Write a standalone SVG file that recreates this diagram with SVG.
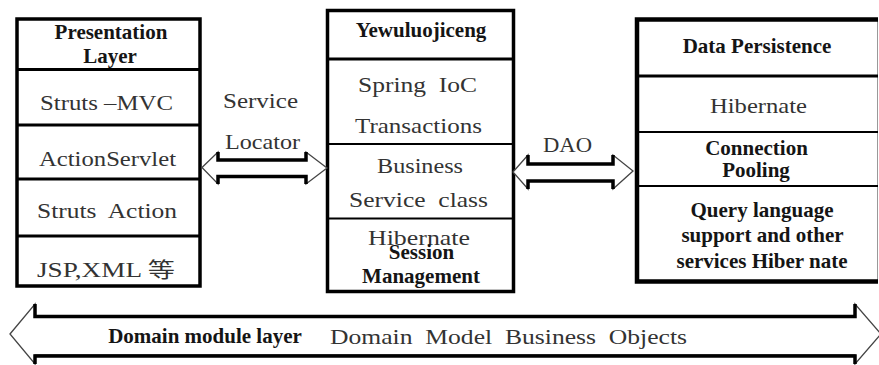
<svg xmlns="http://www.w3.org/2000/svg" width="879" height="365" viewBox="0 0 879 365">
<style>
.b{font-family:"Liberation Serif","Times New Roman",serif;font-weight:bold;font-size:21px;fill:#151515;text-anchor:middle}
.r{font-family:"Liberation Serif","DejaVu Serif",serif;font-weight:normal;font-style:normal;font-size:21px;fill:#333}
.cjk{font-family:"Noto Sans CJK SC",sans-serif}
.box{fill:#fff;stroke:#000;stroke-width:3.5}
.div{stroke:#000;stroke-width:3}
.thin{stroke:#000;stroke-width:2}
.head{fill:#fff;stroke:#444;stroke-width:1.3;stroke-linejoin:miter}
.edge{fill:none;stroke:#000;stroke-width:3.5;stroke-linejoin:miter}
</style>
<rect width="879" height="365" fill="#fff"/>

<g id="presentation">
<rect class="box" x="17" y="19" width="183" height="267"/>
<line class="div" x1="17" y1="69.5" x2="200" y2="69.5"/>
<line class="div" x1="17" y1="125" x2="200" y2="125"/>
<line class="div" x1="17" y1="179" x2="200" y2="179"/>
<line class="div" x1="17" y1="236" x2="200" y2="236"/>
<text class="b" x="111" y="39">Presentation</text>
<text class="b" x="110" y="63">Layer</text>
<text class="r" x="40" y="110" textLength="133" lengthAdjust="spacingAndGlyphs">Struts –MVC</text>
<text class="r" x="39" y="166" textLength="137" lengthAdjust="spacingAndGlyphs">ActionServlet</text>
<text class="r" x="37" y="218" textLength="140" lengthAdjust="spacingAndGlyphs" xml:space="preserve">Struts  Action</text>
<text class="r" x="37" y="277" textLength="138" lengthAdjust="spacingAndGlyphs">JSP,XML <tspan class="cjk">等</tspan></text>
</g>

<g id="business">
<rect class="box" x="327.5" y="10.5" width="186" height="281"/>
<line class="div" x1="327.5" y1="59" x2="513.5" y2="59"/>
<line class="thin" x1="327.5" y1="144" x2="513.5" y2="144"/>
<line class="thin" x1="327.5" y1="218.5" x2="513.5" y2="218.5"/>
<text class="b" x="421" y="37">Yewuluojiceng</text>
<text class="r" x="358" y="92" textLength="119" lengthAdjust="spacingAndGlyphs" xml:space="preserve">Spring  IoC</text>
<text class="r" x="355" y="133" textLength="127" lengthAdjust="spacingAndGlyphs">Transactions</text>
<text class="r" x="377" y="173" textLength="86" lengthAdjust="spacingAndGlyphs">Business</text>
<text class="r" x="349" y="207" textLength="139" lengthAdjust="spacingAndGlyphs" xml:space="preserve">Service  class</text>
<text class="r" x="368" y="245" textLength="102" lengthAdjust="spacingAndGlyphs" fill="#555">Hibernate</text>
<text class="b" x="421.5" y="259">Session</text>
<text class="b" x="421" y="283">Management</text>
</g>

<g id="persistence">
<rect x="637" y="19.5" width="241" height="262" fill="#fff"/>
<line x1="877.5" y1="19.5" x2="877.5" y2="281.5" stroke="#999" stroke-width="1"/>
<path d="M878,19.5 H637 V281.5 H878" fill="none" stroke="#000" stroke-width="4.5"/>
<line class="div" x1="637" y1="76" x2="878" y2="76"/>
<line class="thin" x1="637" y1="132" x2="878" y2="132"/>
<line class="thin" x1="637" y1="186" x2="878" y2="186"/>
<text class="b" x="757" y="53">Data Persistence</text>
<text class="r" x="710" y="113" textLength="97" lengthAdjust="spacingAndGlyphs" fill="#555">Hibernate</text>
<text class="b" x="756.5" y="155">Connection</text>
<text class="b" x="756" y="177">Pooling</text>
<text class="b" x="762" y="217">Query language</text>
<text class="b" x="762.5" y="242">support and other</text>
<text class="b" x="762" y="268">services Hiber nate</text>
</g>

<g id="connectors">
<g id="service-locator">
<polygon class="head" points="202,167.5 218,152 218,160 306,160 306,152 327,168 306,184 306,176 218,176 218,184"/>
<polyline class="edge" points="218,152 218,160 306,160 306,152"/>
<polyline class="edge" points="218,184 218,176.5 306,176.5 306,184"/>
<text class="r" x="223" y="108" textLength="75" lengthAdjust="spacingAndGlyphs">Service</text>
<text class="r" x="225" y="149" textLength="75" lengthAdjust="spacingAndGlyphs">Locator</text>
</g>
<g id="dao">
<polygon class="head" points="513,172 528,155 528,164 613,164 613,155 633,171 613,189 613,181 528,181 528,189"/>
<polyline class="edge" points="528,155 528,164 613,164 613,155"/>
<polyline class="edge" points="528,189 528,181 613,181 613,189"/>
<text class="r" x="543" y="152" textLength="49" lengthAdjust="spacingAndGlyphs">DAO</text>
</g>
<g id="domain-layer">
<polygon class="head" points="10,334 35,304 35,316 855,316 855,304 881,334 855,364 855,355 35,355 35,364"/>
<polyline class="edge" points="35,304 35,316.5 855,316.5 855,304" stroke-width="5"/>
<polyline class="edge" points="35,364 35,356 855,356 855,364" stroke-width="4"/>
<text class="b" x="205" y="343">Domain module layer</text>
<text class="r" x="330" y="344" textLength="357" lengthAdjust="spacingAndGlyphs" xml:space="preserve">Domain  Model  Business  Objects</text>
</g>
</g>
</svg>
